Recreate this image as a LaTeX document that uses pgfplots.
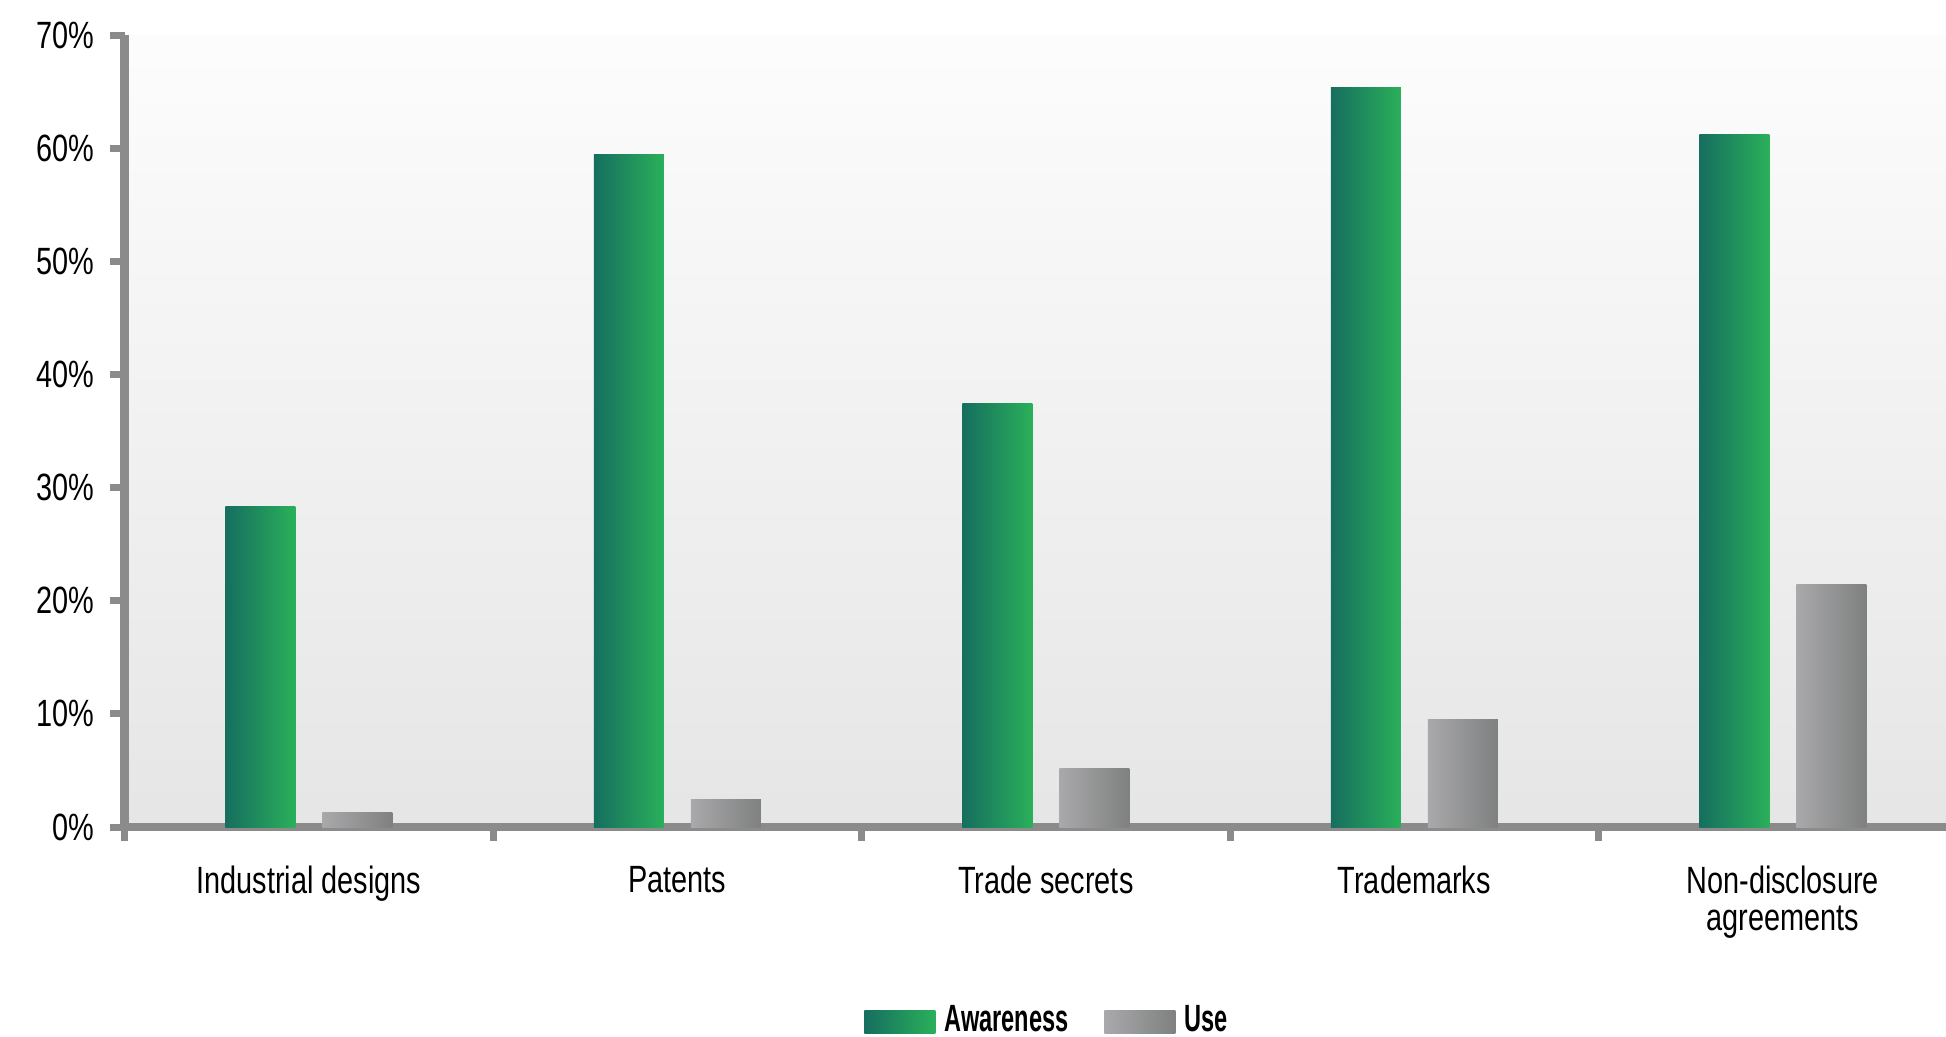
\documentclass[border=0pt]{standalone}
\usepackage{fontspec}
\setmainfont[FakeStretch=0.76]{Liberation Sans}
\newfontfamily\legfont[FakeStretch=0.62]{Liberation Sans}
\usepackage{pgfplots}
\pgfplotsset{compat=1.18}
\definecolor{gA}{HTML}{166E5F}
\definecolor{gB}{HTML}{2AB05A}
\definecolor{uA}{HTML}{A9A9AB}
\definecolor{uB}{HTML}{7F8080}
\definecolor{axgray}{HTML}{8A8B8A}
\pgfplotsset{
  aw/.style={ybar, bar width=35bp, bar shift=-24.25bp, draw=none, left color=gA, right color=gB, forget plot},
  us/.style={ybar, bar width=35bp, bar shift=24.25bp, draw=none, left color=uA, right color=uB, forget plot},
}
\begin{document}
\begin{tikzpicture}
\path[use as bounding box] (-62.25bp,-105bp) rectangle (910.75bp,413.5bp);
\begin{axis}[
  at={(0,0)}, anchor=south west,
  scale only axis, width=910.75bp, height=396bp,
  xmin=-0.5, xmax=4.443, ymin=0, ymax=70,
  axis x line*=bottom, axis y line*=left,
  axis line style={draw=axgray, line width=4bp, -},
  tick style={draw=axgray, line width=3.5bp},
  tick align=outside, major tick length=7bp,
  axis background/.style={top color=black!1, bottom color=black!10},
  ytick={0,10,...,70},
  /pgf/number format/assume math mode=true,
  yticklabel={\pgfmathprintnumber{\tick}\%},
  yticklabel style={font=\fontsize{19bp}{22bp}\selectfont, text=black, xshift=-4.5bp},
  xtick={-0.5,0.5,1.5,2.5,3.5},
  xticklabels={},
  extra x ticks={0,1,2,3,4},
  extra x tick labels={Industrial designs,Patents,Trade secrets,Trademarks,{Non-disclosure\\agreements}},
  extra x tick style={major tick length=0pt, tick style={draw=none},
    xticklabel style={font=\fontsize{19bp}{18.5bp}\selectfont, align=center, anchor=north, inner sep=0pt, text=black, yshift=-19.5bp}},
  legend style={at={(0.507,-0.243)}, anchor=center, draw=none, fill=none,
    legend columns=2, font={\fontsize{19bp}{22bp}\legfont\bfseries},
    /tikz/every odd column/.append style={column sep=2.5bp},
    /tikz/every even column/.append style={column sep=16bp}},
  legend image code/.code={\path[#1, draw=none] (0bp,-7bp) rectangle (35.5bp,4.5bp);},
]
\addplot[aw] coordinates {(0,28.3)};
\addplot[aw] coordinates {(1,59.4)};
\addplot[aw] coordinates {(2,37.4)};
\addplot[aw] coordinates {(3,65.4)};
\addplot[aw] coordinates {(4,61.2)};
\addplot[us] coordinates {(0,1.3)};
\addplot[us] coordinates {(1,2.4)};
\addplot[us] coordinates {(2,5.2)};
\addplot[us] coordinates {(3,9.5)};
\addplot[us] coordinates {(4,21.4)};
\addlegendimage{left color=gA, right color=gB}
\addlegendentry{Awareness}
\addlegendimage{left color=uA, right color=uB}
\addlegendentry{Use}
\end{axis}
\end{tikzpicture}
\end{document}
